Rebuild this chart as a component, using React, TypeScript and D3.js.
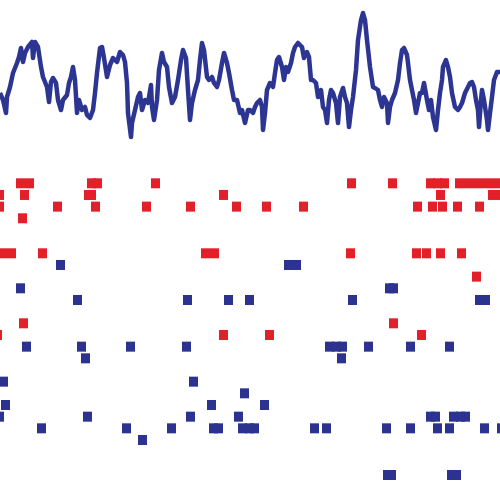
import { useEffect, useRef } from 'react'
import * as d3 from 'd3'

// LFP trace: time (ms) and amplitude (a.u.)
const lfpTime = [
  0, 3, 6, 7, 10, 13, 17, 19, 21, 23, 25, 28, 32, 33, 35, 38, 41, 43, 47, 49,
  51, 53, 56, 58, 61, 63, 67, 69, 71, 73, 75, 77, 79, 82, 85, 87, 90, 93, 95, 97,
  100, 102, 104, 107, 110, 113, 117, 120, 123, 125, 127, 128, 131, 132, 135, 138, 140, 142, 145, 148,
  151, 152, 154, 157, 159, 162, 164, 167, 169, 172, 175, 178, 181, 183, 186, 188, 190, 192, 195, 198,
  200, 202, 204, 207, 209, 212, 214, 217, 219, 222, 224, 227, 229, 232, 234, 237, 240, 242, 245, 248,
  250, 253, 255, 257, 260, 262, 263, 265, 267, 270, 273, 275, 277, 279, 282, 284, 286, 288, 291, 293,
  295, 298, 302, 304, 307, 309, 311, 313, 316, 318, 321, 323, 325, 327, 329, 331, 333, 336, 338, 340,
  343, 345, 347, 349, 351, 353, 356, 358, 361, 363, 365, 367, 370, 373, 375, 378, 380, 382, 384, 387,
  388, 390, 392, 395, 398, 400, 402, 404, 407, 408, 410, 412, 414, 416, 418, 420, 422, 424, 427, 429,
  431, 433, 436, 438, 440, 442, 443, 446, 448, 450, 452, 455, 458, 460, 462, 465, 468, 470, 472, 474,
  476, 478, 479, 481, 482, 484, 487, 488, 490, 492, 494, 497, 500,
]
const lfpValue = [
  47, 40, 27, 43, 53, 67, 77, 83, 92, 78, 87, 93, 98, 82, 98, 93, 73, 63, 53, 38,
  58, 62, 57, 40, 30, 40, 45, 57, 63, 73, 60, 27, 40, 30, 33, 25, 22, 30, 47, 67,
  92, 93, 82, 63, 75, 82, 78, 88, 85, 78, 57, 27, 3, 17, 30, 43, 47, 30, 40, 37,
  55, 33, 20, 40, 70, 87, 78, 73, 53, 37, 43, 60, 80, 90, 82, 50, 20, 37, 50, 60,
  80, 97, 90, 63, 60, 63, 57, 53, 60, 77, 87, 77, 67, 50, 40, 40, 27, 30, 17, 30,
  30, 27, 33, 37, 40, 33, 10, 27, 50, 57, 53, 67, 80, 83, 73, 60, 73, 68, 77, 87,
  93, 97, 93, 82, 88, 83, 60, 60, 57, 43, 50, 33, 30, 17, 40, 50, 47, 37, 17, 43,
  52, 43, 37, 13, 30, 43, 70, 100, 120, 127, 120, 100, 73, 53, 52, 50, 40, 33, 43, 37,
  17, 33, 40, 47, 60, 77, 90, 92, 85, 77, 60, 50, 40, 27, 37, 47, 47, 57, 40, 30,
  40, 23, 10, 30, 47, 60, 73, 80, 73, 63, 47, 33, 30, 33, 37, 47, 53, 57, 58, 53,
  40, 30, 13, 40, 50, 40, 20, 10, 27, 43, 60, 68, 68,
]

// spikes: [neuron index, spike time (ms)]
const redSpikes: [number, number][] = [
  [0, 16], [0, 25], [0, 87], [0, 93], [0, 151], [0, 347], [0, 388], [0, 426], [0, 433], [0, 440],
  [0, 455], [0, 464], [0, 473], [0, 482], [0, 491],
  [1, -5], [1, 20], [1, 84], [1, 87], [1, 219], [1, 436], [1, 488], [1, 495],
  [2, -5], [2, 53], [2, 91], [2, 142], [2, 186], [2, 232], [2, 262], [2, 299], [2, 413], [2, 428],
  [2, 438], [2, 453], [2, 475],
  [3, 18],
  [6, -2], [6, 7], [6, 38], [6, 201], [6, 210], [6, 346], [6, 412], [6, 422], [6, 436], [6, 457],
  [8, 472],
  [12, 19], [12, 389],
  [13, -7], [13, 219], [13, 265], [13, 417],
]
const blueSpikes: [number, number][] = [
  [7, 56], [7, 284], [7, 292],
  [9, 16], [9, 385], [9, 389],
  [10, 73], [10, 183], [10, 224], [10, 245], [10, 348], [10, 475], [10, 481],
  [14, 22], [14, 77], [14, 126], [14, 182], [14, 325], [14, 332], [14, 338], [14, 364], [14, 406], [14, 445],
  [15, 81], [15, 337],
  [17, -1], [17, 189],
  [18, 240],
  [19, 1], [19, 207], [19, 260],
  [20, -5], [20, 83], [20, 186], [20, 234], [20, 426], [20, 431], [20, 449], [20, 456], [20, 461],
  [21, 37], [21, 122], [21, 167], [21, 209], [21, 214], [21, 238], [21, 245], [21, 250], [21, 310],
  [21, 322], [21, 382], [21, 406], [21, 433], [21, 445], [21, 480], [21, 497],
  [22, 138],
  [25, 383], [25, 387], [25, 447], [25, 452],
]

export default function App() {
  const svgRef = useRef<SVGSVGElement>(null)
  const width = 500
  const height = 500

  useEffect(() => {
    if (!svgRef.current) return
    const svg = d3.select(svgRef.current)
    svg.selectAll('*').remove()

    const x = d3.scaleLinear().domain([0, 500]).range([0, width])
    const yLfp = d3.scaleLinear().domain([0, 130]).range([140, 10])
    const yRow = d3.scaleLinear().domain([0, 25]).range([183.3, 475])
    const spikeDur = 9
    const boxH = 10

    // LFP trace
    const line = d3.line<number>()
      .x(i => x(lfpTime[i]))
      .y(i => yLfp(lfpValue[i]))
    svg.append('path')
      .datum(d3.range(lfpTime.length))
      .attr('d', line)
      .attr('fill', 'none')
      .attr('stroke', '#2c3592')
      .attr('stroke-width', 4.5)
      .attr('stroke-linejoin', 'round')

    // raster
    const drawSpikes = (data: [number, number][], fill: string) => {
      svg.append('g')
        .selectAll('rect')
        .data(data)
        .enter()
        .append('rect')
        .attr('x', d => x(d[1]))
        .attr('y', d => yRow(d[0]) - boxH / 2)
        .attr('width', x(spikeDur) - x(0))
        .attr('height', boxH)
        .attr('fill', fill)
    }
    drawSpikes(redSpikes, '#e3202a')
    drawSpikes(blueSpikes, '#2b3290')
  }, [])

  return (
    <svg
      ref={svgRef}
      width={width}
      height={height}
      style={{ position: 'absolute', left: 0, top: 0, background: '#fff' }}
    />
  )
}
